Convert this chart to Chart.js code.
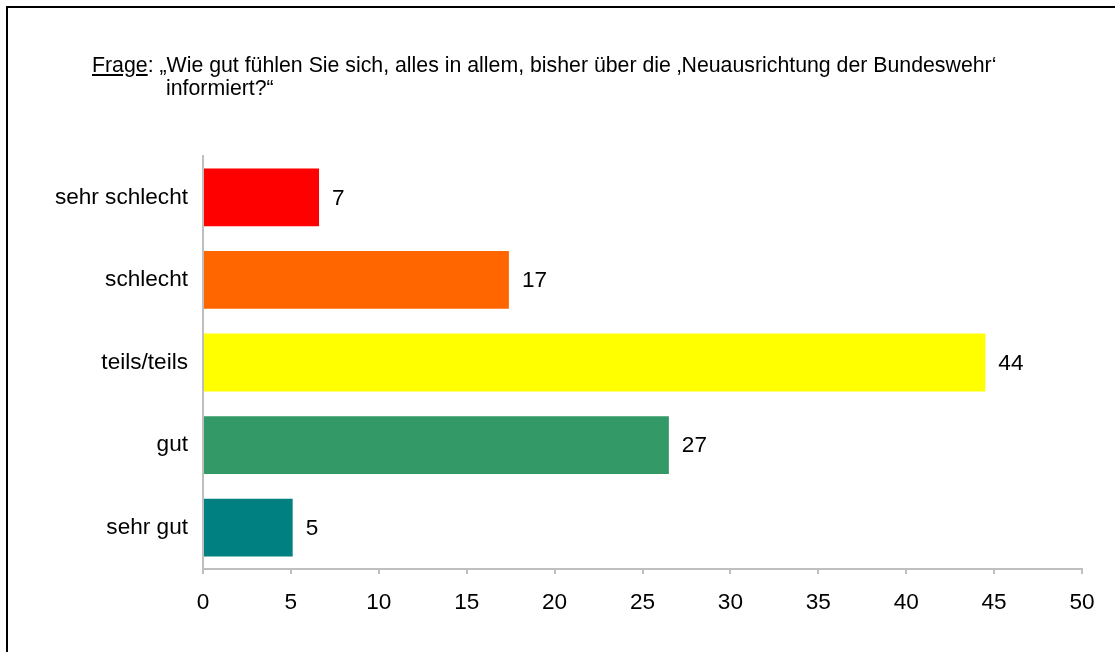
<!DOCTYPE html>
<html>
<head>
<meta charset="utf-8">
<script src="https://cdn.jsdelivr.net/npm/chart.js@4/dist/chart.umd.min.js"></script>
<style>
    html, body { margin: 0; padding: 0; background: #fff; }
    #wrap { position: relative; width: 1115px; height: 652px; overflow: hidden; }
    #frame { position: absolute; left: 6px; top: 6px; width: 1200px; height: 700px; border: 2px solid #000; box-sizing: border-box; }
    #frage { position: absolute; left: 92px; top: 54px; font-family: "Liberation Sans", Arial, sans-serif; font-size: 21.3px; line-height: 23px; color: #000; white-space: nowrap; }
    #frage .l2 { padding-left: 74px; }
    canvas { position: absolute; left: 0; top: 0; }
</style>
</head>
<body>
<div id="wrap">
    <div id="frame"></div>
    <canvas id="chart" width="1115" height="652"></canvas>
    <div id="frage"><u>Frage</u>: „Wie gut fühlen Sie sich, alles in allem, bisher über die ‚Neuausrichtung der Bundeswehr‘<br><span class="l2">informiert?“</span></div>
</div>
<script>
    const categorias = ['sehr schlecht', 'schlecht', 'teils/teils', 'gut', 'sehr gut'];
    const valores = [6.6, 17.4, 44.5, 26.5, 5.1];
    const etiquetas = ['7', '17', '44', '27', '5'];
    const colores = ['#FF0000', '#FF6600', '#FFFF00', '#339966', '#008080'];
    const ticksX = [0, 5, 10, 15, 20, 25, 30, 35, 40, 45, 50];

    const fuente = '"Liberation Sans", Arial, sans-serif';
    const tamFuente = 22.6;

    // Etiquetas de valores al final de cada barra
    const etiquetasPlugin = {
        id: 'etiquetas',
        afterDatasetsDraw(chart) {
            const ctx = chart.ctx;
            const meta = chart.getDatasetMeta(0);
            ctx.save();
            ctx.font = tamFuente + 'px ' + fuente;
            ctx.fillStyle = '#000';
            ctx.textAlign = 'left';
            ctx.textBaseline = 'middle';
            meta.data.forEach(function (bar, i) {
                ctx.fillText(etiquetas[i], bar.x + 13, bar.y + 1);
            });
            ctx.restore();
        }
    };

    var ctxChart = document.getElementById('chart').getContext('2d');
    var chart = new Chart(ctxChart, {
        type: 'bar',
        data: {
            labels: categorias,
            datasets: [{
                data: valores,
                backgroundColor: colores,
                barPercentage: 0.7,
                categoryPercentage: 1.0
            }]
        },
        options: {
            indexAxis: 'y',
            responsive: false,
            animation: false,
            layout: {
                padding: { top: 156, right: 33, left: 0, bottom: 0 }
            },
            plugins: {
                legend: { display: false },
                tooltip: { enabled: false }
            },
            scales: {
                x: {
                    min: 0,
                    max: 50,
                    afterBuildTicks: function (scale) {
                        scale.ticks = ticksX.map(function (v) { return { value: v }; });
                    },
                    afterFit: function (scale) { scale.height = 83; },
                    grid: {
                        display: true,
                        drawOnChartArea: false,
                        drawTicks: true,
                        tickLength: 5,
                        color: '#BFBFBF',
                        lineWidth: 2
                    },
                    border: { color: '#BFBFBF', width: 2 },
                    ticks: {
                        color: '#000',
                        padding: 15,
                        font: { family: fuente, size: tamFuente }
                    }
                },
                y: {
                    afterFit: function (scale) { scale.width = 203; },
                    grid: { display: false, drawTicks: false },
                    border: { color: '#BFBFBF', width: 2 },
                    ticks: {
                        color: '#000',
                        padding: 15,
                        font: { family: fuente, size: tamFuente }
                    }
                }
            }
        },
        plugins: [etiquetasPlugin]
    });
</script>
</body>
</html>
